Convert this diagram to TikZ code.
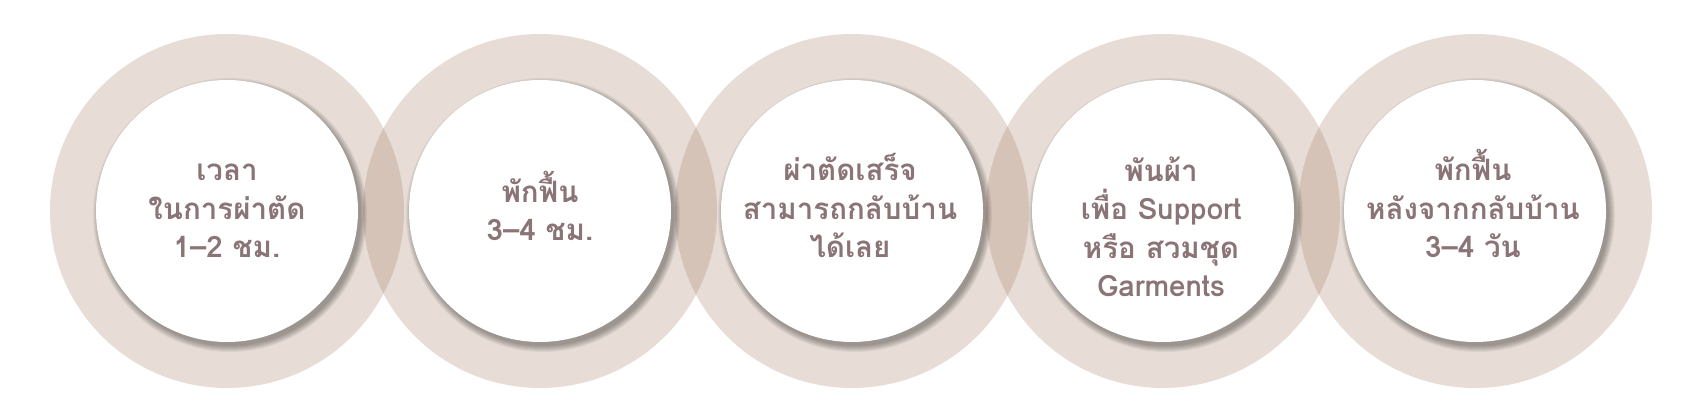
\documentclass[tikz,border=0pt]{standalone}
\usepackage{fontspec}
\newfontfamily\thaifont[Script=Thai]{Loma}
\usepackage{xcolor}
\usepackage{tikz}
\usetikzlibrary{calc}
\definecolor{ringc}{HTML}{9F775B}
\definecolor{ink}{HTML}{8A7476}
\tikzset{
  ring/.style={circle, fill=ringc, fill opacity=0.25, inner sep=0pt, minimum size=354pt},
  disc/.style={circle, fill=white, inner sep=0pt, minimum size=262pt},
  haze/.style={fill=black, fill opacity=0.055},
  lab/.style={text=ink, font=\thaifont\bfseries\fontsize{29.5}{38.5}\selectfont, align=center, anchor=base, inner sep=0pt},
}

\begin{document}
\begin{tikzpicture}[x=1pt,y=1pt]
  \useasboundingbox (0,0) rectangle (1700,420);
  % rings
  \foreach \i/\x in {1/227,2/540,3/852,4/1163,5/1475}
    \node[ring] (r\i) at (\x,209) {};
  % soft shadows under the discs
  \foreach \x in {227,540,852,1163,1475}
    \foreach \s in {0,...,6}
      \fill[haze] (\x+3,205) circle (137-\s);
  % discs
  \foreach \i/\x in {1/227,2/540,3/852,4/1163,5/1475}
    \node[disc] (d\i) at (\x,209) {};
  % labels (base = last line)
  \node[lab] (t1) at (227,162) {เวลา\\ในการผ่าตัด\\1–2 ชม.};
  \node[lab] (t2) at (540,179) {พักฟื้น\\3–4 ชม.};
  \node[lab] (t3) at (850,162) {ผ่าตัดเสร็จ\\สามารถกลับบ้าน\\ได้เลย};
  \node[lab] (t4) at (1161,123) {พันผ้า\\เพื่อ Support\\หรือ สวมชุด\\Garments};
  \node[lab] (t5) at (1473,162) {พักฟื้น\\หลังจากกลับบ้าน\\3–4 วัน};
\end{tikzpicture}
\end{document}
